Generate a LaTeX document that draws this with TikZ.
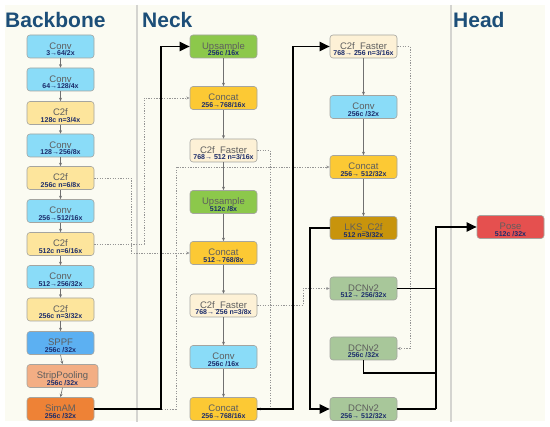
\documentclass[tikz,border=0pt]{standalone}
\usepackage{fontspec}
\setmainfont{Liberation Sans}
\usetikzlibrary{arrows.meta,calc}
\definecolor{bgc}{HTML}{FBFBF2}
\definecolor{divc}{HTML}{D4D4D0}
\definecolor{titc}{HTML}{1C4E78}
\definecolor{convc}{HTML}{8ADCF8}
\definecolor{c2fc}{HTML}{FDE59C}
\definecolor{sppfc}{HTML}{5CB0F2}
\definecolor{stripc}{HTML}{F3AE84}
\definecolor{simamc}{HTML}{EE8236}
\definecolor{upc}{HTML}{8CC84B}
\definecolor{catc}{HTML}{FCC934}
\definecolor{fastc}{HTML}{FDF1D6}
\definecolor{lksc}{HTML}{C8940C}
\definecolor{dcnc}{HTML}{A8C79A}
\definecolor{posec}{HTML}{E5504F}
\definecolor{maintc}{HTML}{5E5E5E}
\definecolor{subtc}{HTML}{1B2C6B}
\definecolor{bordc}{HTML}{A5A5A0}
\definecolor{arrc}{HTML}{707070}
\definecolor{dotc}{HTML}{959595}
\tikzset{
  blk/.style={draw=bordc, line width=0.6pt, rounded corners=3pt, minimum width=67pt, minimum height=23pt, inner sep=0pt},
  mtxt/.style={font=\fontsize{9.5}{10}\selectfont, text=maintc, inner sep=0pt, anchor=base},
  stxt/.style={font=\bfseries\fontsize{7}{7}\selectfont, text=subtc, inner sep=0pt, anchor=base},
  ttl/.style={font=\bfseries\fontsize{21}{22}\selectfont, text=titc, inner sep=0pt, anchor=base west},
  garr/.style={draw=arrc, line width=0.6pt, -{Stealth[length=3.5pt,width=3pt]}},
  dotarr/.style={draw=dotc, line width=0.7pt, dash pattern=on 1.3pt off 1.3pt, -{Stealth[length=3.5pt,width=3pt]}},
  thk/.style={draw=black, line width=1.9pt, -{Triangle[length=10pt,width=9pt]}},
  thkn/.style={draw=black, line width=1.9pt},
}
\newcommand{\mkblk}[7]{%
  \node[blk, fill=#5, minimum width=#4pt] (#1) at (#2,#3) {};
  \node[mtxt] (#1-t) at ($(#1.north)+(0,14.5)$) {#6};
  \node[stxt] (#1-s) at ($(#1.north)+(0,21)$) {#7};
}
\begin{document}
\begin{tikzpicture}[x=1pt,y=-1pt]
\useasboundingbox (0,0) rectangle (550,427);
\fill[white] (0,0) rectangle (550,427);
\fill[bgc] (5,5) rectangle (545,421);
\draw[divc, line width=1.5pt] (137,5) -- (137,422);
\draw[divc, line width=1.5pt] (451,5) -- (451,422);
\node[ttl] (tb) at (5,28) {Backbone};
\node[ttl] (tn) at (142,28) {Neck};
\node[ttl] (th) at (453,28) {Head};
% backbone
\mkblk{b1}{60.5}{46.5}{67}{convc}{Conv}{3→64/2x}
\mkblk{b2}{60.5}{79.5}{67}{convc}{Conv}{64→128/4x}
\mkblk{b3}{60.5}{113}{67}{c2fc}{C2f}{128c n=3/4x}
\mkblk{b4}{60.5}{145.5}{67}{convc}{Conv}{128→256/8x}
\mkblk{b5}{60.5}{178}{67}{c2fc}{C2f}{256c n=6/8x}
\mkblk{b6}{60.5}{211}{67}{convc}{Conv}{256→512/16x}
\mkblk{b7}{60.5}{244}{67}{c2fc}{C2f}{512c n=6/16x}
\mkblk{b8}{60.5}{277}{67}{convc}{Conv}{512→256/32x}
\mkblk{b9}{60.5}{309.5}{67}{c2fc}{C2f}{256c n=3/32x}
\mkblk{b10}{60.5}{343}{67}{sppfc}{SPPF}{256c /32x}
\mkblk{b11}{62.5}{376}{71}{stripc}{StripPooling}{256c /32x}
\mkblk{b12}{60.5}{409}{67}{simamc}{SimAM}{256c /32x}
% neck column 1
\mkblk{n1}{223.5}{46.5}{67}{upc}{Upsample}{256c /16x}
\mkblk{n2}{223.5}{98}{67}{catc}{Concat}{256→768/16x}
\mkblk{n3}{223.5}{150.5}{67}{fastc}{C2f\_Faster}{768→ 512 n=3/16x}
\mkblk{n4}{223.5}{202}{67}{upc}{Upsample}{512c /8x}
\mkblk{n5}{223.5}{253}{67}{catc}{Concat}{512→768/8x}
\mkblk{n6}{223.5}{305.5}{67}{fastc}{C2f\_Faster}{768→ 256 n=3/8x}
\mkblk{n7}{223.5}{357}{67}{convc}{Conv}{256c /16x}
\mkblk{n8}{223.5}{409}{67}{catc}{Concat}{256→768/16x}
% neck column 2
\mkblk{m1}{363.5}{46.5}{67}{fastc}{C2f\_Faster}{768→ 256 n=3/16x}
\mkblk{m2}{363.5}{107}{67}{convc}{Conv}{256c /32x}
\mkblk{m3}{363.5}{167}{67}{catc}{Concat}{256→ 512/32x}
\mkblk{m4}{363.5}{228}{67}{lksc}{LKS\_C2f}{512 n=3/32x}
\mkblk{m5}{363.5}{288.5}{67}{dcnc}{DCNv2}{512→ 256/32x}
\mkblk{m6}{363.5}{348.5}{67}{dcnc}{DCNv2}{256c /32x}
\mkblk{m7}{363.5}{409}{67}{dcnc}{DCNv2}{256→ 512/32x}
% head
\mkblk{pose}{510.5}{227}{67}{posec}{Pose}{512c /32x}
% sequential arrows
\foreach \i [evaluate=\i as \j using int(\i+1)] in {1,...,11} {\draw[garr] (b\i.south) -- (b\j.north);}
\foreach \i [evaluate=\i as \j using int(\i+1)] in {1,...,7} {\draw[garr] (n\i.south) -- (n\j.north);}
\foreach \i [evaluate=\i as \j using int(\i+1)] in {1,...,3} {\draw[garr] (m\i.south) -- (m\j.north);}
% dotted skip connections
\coordinate (cd1) at (131,220);
\coordinate (cd2) at (144,170);
\coordinate (cd3) at (270,300);
\coordinate (cd4) at (303,297);
\coordinate (cd5) at (176,300);
\coordinate (cd6) at (410,200);
\draw[dotarr] (b5.east) -| (cd1) |- (n5.west);
\draw[dotarr] (b7.east) -| (cd2) |- (n2.west);
\draw[dotarr] (n3.east) -| (cd3) |- (n8.east);
\draw[dotarr] (n6.east) -| (cd4) |- (m5.west);
\draw[dotarr] (b12.east) -| (cd5) |- (m3.west);
\draw[dotarr] (m1.east) -| (cd6) |- (m6.east);
% thick connections
\coordinate (j1) at (161,409);
\coordinate (j2) at (293,409);
\coordinate (j3) at (310,228);
\coordinate (j4) at (436,409);
\coordinate (j5) at (436,373);
\draw[thk] (b12.east) -- (j1) |- (n1.west);
\draw[thk] (n8.east) -- (j2) |- (m1.west);
\draw[thk] (m4.west) -- (j3) |- (m7.west);
\draw[thkn] (m7.east) -- (j4);
\draw[thkn] (m5.east) -- (m5.east -| j4);
\draw[thkn] (m6.south) |- (j5);
\draw[thk] (j4) |- (pose.west);
\end{tikzpicture}
\end{document}
